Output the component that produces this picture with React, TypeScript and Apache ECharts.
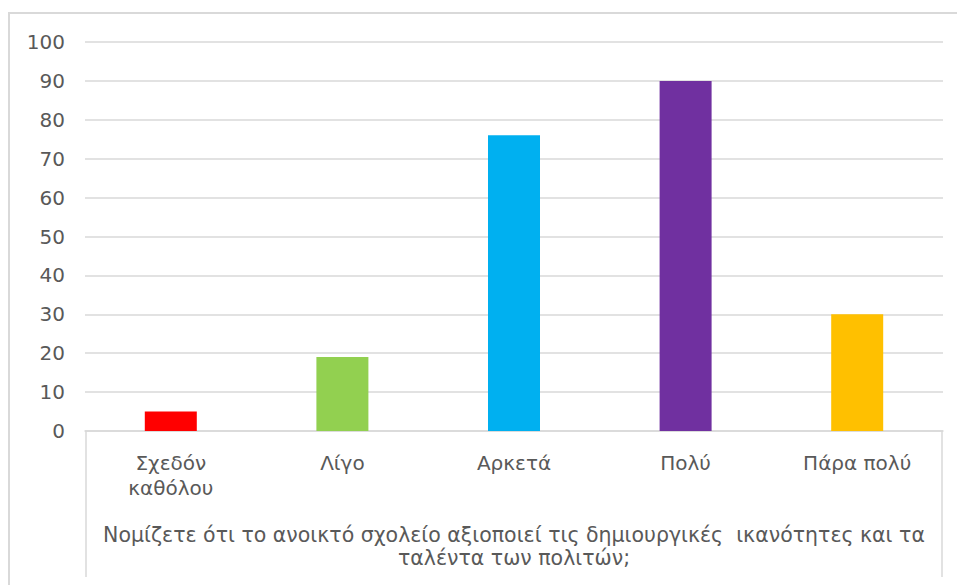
import React, { useEffect, useRef } from "react";
import * as echarts from "echarts";

const categories = ["Σχεδόν καθόλου", "Λίγο", "Αρκετά", "Πολύ", "Πάρα πολύ"];
const values = [5, 19, 76, 90, 30];
const barColors = ["#FF0000", "#92D050", "#00B0F0", "#7030A0", "#FFC000"];
const axisTitle =
  "Νομίζετε ότι το ανοικτό σχολείο αξιοποιεί τις δημιουργικές  ικανότητες και τα\nταλέντα των πολιτών;";

const FONT = "DejaVu Sans";
const TEXT = "#595959";
const LINE = "#d9d9d9";

export default function App() {
  const ref = useRef<HTMLDivElement>(null);
  useEffect(() => {
    if (!ref.current) return;
    const chart = echarts.init(ref.current, undefined, { renderer: "svg" });
    chart.setOption({
      animation: false,
      backgroundColor: "#ffffff",
      grid: { left: 85, right: 14, top: 42, bottom: 154, containLabel: false },
      xAxis: {
        type: "category",
        data: categories,
        axisLine: { show: true, lineStyle: { color: LINE, width: 1.5 } },
        axisTick: { show: false },
        axisLabel: {
          interval: 0,
          color: TEXT,
          fontFamily: FONT,
          fontSize: 20,
          margin: 19,
          lineHeight: 25,
          formatter: (v: string) => (v.length > 12 ? v.replace(" ", "\n") : v),
        },
        name: axisTitle,
        nameLocation: "middle",
        nameGap: 92,
        nameTextStyle: {
          color: TEXT,
          fontFamily: FONT,
          fontSize: 20.5,
          lineHeight: 23,
          align: "center",
        },
      },
      yAxis: {
        type: "value",
        min: 0,
        max: 100,
        interval: 10,
        axisLine: { show: false },
        axisTick: { show: false },
        axisLabel: { color: TEXT, fontFamily: FONT, fontSize: 20, margin: 20 },
        splitLine: { lineStyle: { color: LINE, width: 1.5 } },
      },
      graphic: [
        {
          type: "rect",
          shape: { x: 9, y: 13, width: 1000, height: 1000 },
          style: { fill: "none", stroke: LINE, lineWidth: 2 },
          silent: true,
        },
        {
          type: "line",
          shape: { x1: 86, y1: 431, x2: 86, y2: 577 },
          style: { stroke: LINE, lineWidth: 1.5 },
        },
        {
          type: "line",
          shape: { x1: 942, y1: 431, x2: 942, y2: 577 },
          style: { stroke: LINE, lineWidth: 1.5 },
        },
      ],
      series: [
        {
          type: "bar",
          barWidth: 52,
          data: values.map((v, i) => ({ value: v, itemStyle: { color: barColors[i] } })),
        },
      ],
    });
    return () => chart.dispose();
  }, []);
  return (
    <div
      ref={ref}
      style={{ position: "absolute", left: 0, top: 0, width: 957, height: 585 }}
    />
  );
}
